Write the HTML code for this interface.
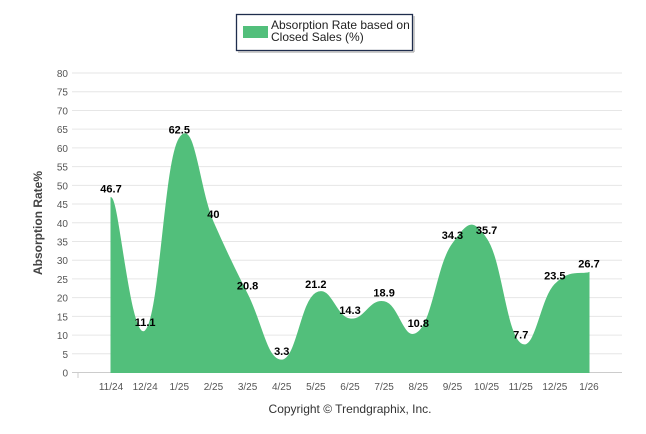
<!DOCTYPE html>
<html><head><meta charset="utf-8"><style>
body{margin:0;background:#fff;}
svg{display:block;font-family:"Liberation Sans",sans-serif;}
</style></head><body>
<svg id="c" width="646" height="434">
<g>
<rect x="236.5" y="14.5" width="176" height="36" fill="#fff" stroke="#1f2d4d" stroke-width="1.3"/>
<line x1="238" y1="52" x2="414" y2="52" stroke="#bbb" stroke-width="1.5"/>
<line x1="414" y1="16" x2="414" y2="52" stroke="#bbb" stroke-width="1.5"/>
<rect x="243" y="26" width="25" height="12" fill="#52bf7b"/>
<text x="271" y="29" font-size="12" fill="#222">Absorption Rate based on</text>
<text x="271" y="41" font-size="12" fill="#222">Closed Sales (%)</text>
</g>
<text transform="translate(42,223) rotate(-90)" text-anchor="middle" font-size="12" font-weight="bold" fill="#444">Absorption Rate%</text>
<text x="350" y="413" text-anchor="middle" font-size="12" fill="#333">Copyright © Trendgraphix, Inc.</text>
<g id="grid"></g><g id="area"></g><g id="labels"></g>
</svg>
<script>
const categories=["11/24","12/24","1/25","2/25","3/25","4/25","5/25","6/25","7/25","8/25","9/25","10/25","11/25","12/25","1/26"];
const values=[46.7,11.1,62.5,40,20.8,3.3,21.2,14.3,18.9,10.8,34.3,35.7,7.7,23.5,26.7];
const yTicks=[0,5,10,15,20,25,30,35,40,45,50,55,60,65,70,75,80];
const NS="http://www.w3.org/2000/svg";
const x0=111,dx=(589-111)/14,yb=372.5,yt=73,ymax=80;
const X=i=>x0+i*dx, Y=v=>yb-(v/ymax)*(yb-yt);
function mk(t,a,p){const e=document.createElementNS(NS,t);for(const k in a)e.setAttribute(k,a[k]);p.appendChild(e);return e;}
const g=document.getElementById('grid');
yTicks.forEach(v=>{
 const l=mk('line',{x1:72,x2:622,y1:Y(v),y2:Y(v),stroke:v===0?'#ccc':'#e6e6e6','stroke-width':1},g);
 
 
 const t=mk('text',{x:68,y:Y(v)+4,'text-anchor':'end','font-size':10,fill:'#555'},g);
 t.textContent=v;
 
 
});
categories.forEach((c,i)=>{
 const t=mk('text',{x:X(i),y:390,'text-anchor':'middle','font-size':10,fill:'#555'},g);
 t.textContent=c;
 
 
});
mk('line',{x1:78,x2:78,y1:373,y2:378,stroke:'#ccc'},g);
// smooth path
const pts=values.map((v,i)=>[X(i),Y(v)]);
let d=`M${pts[0][0]},${yb} L${pts[0][0]},${pts[0][1]}`;
const s=1.5;
for(let i=0;i<pts.length-1;i++){
 const p0=pts[i],p1=pts[i+1];
 const pm=pts[i-1]||p0,pn=pts[i+2]||p1;
 const c1=[p0[0]+(p1[0]-pm[0])/(2*s*2)*1.33,p0[1]+(p1[1]-pm[1])/(2*s*2)*1.33];
 const c2=[p1[0]-(pn[0]-p0[0])/(2*s*2)*1.33,p1[1]-(pn[1]-p0[1])/(2*s*2)*1.33];
 if(i===0){c1[1]=p0[1];}
 d+=` C${c1[0]},${c1[1]} ${c2[0]},${c2[1]} ${p1[0]},${p1[1]}`;
}
d+=` L${pts[pts.length-1][0]},${yb} Z`;
const a=mk('path',{d:d,fill:'#52bf7b',stroke:'#52bf7b','stroke-width':1},document.getElementById('area'));


const lg=document.getElementById('labels');
values.forEach((v,i)=>{
 const t=mk('text',{x:X(i),y:Y(v)-5,'text-anchor':'middle','font-size':11,'font-weight':'bold',fill:'#000'},lg);
 t.textContent=v;
 
 
});
</script>
</body></html>
